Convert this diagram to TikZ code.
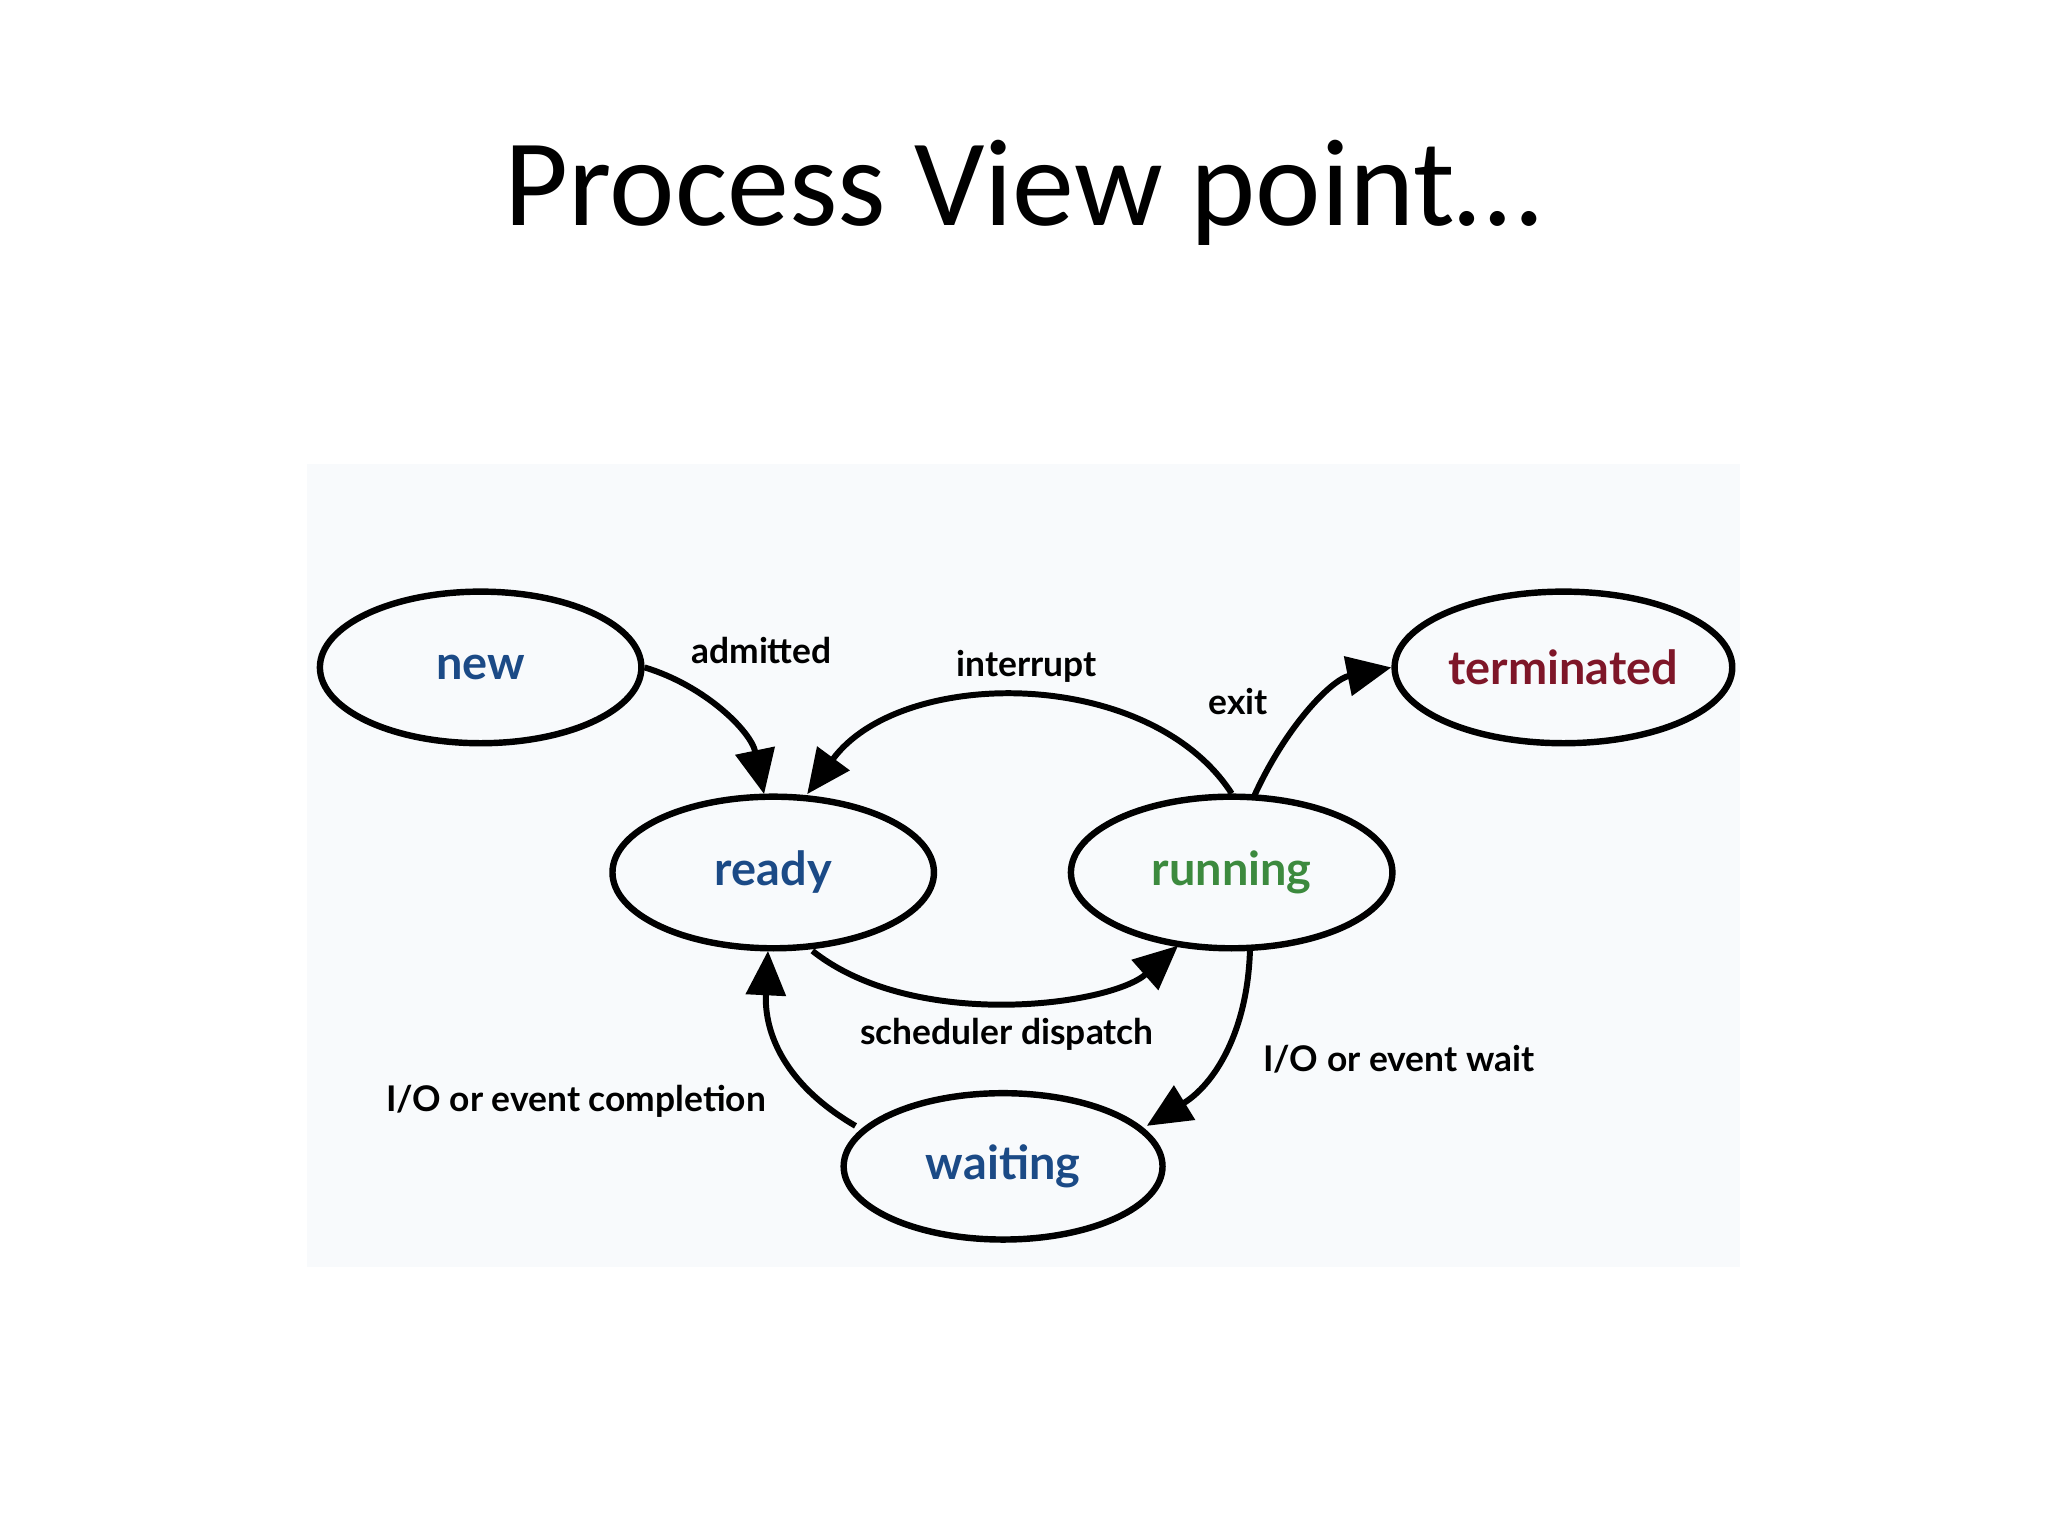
\documentclass[tikz,border=0pt]{standalone}
\usepackage{fontspec}
\setmainfont{Carlito}
\newfontfamily\lab{Lato}
\usetikzlibrary{shapes.geometric,arrows.meta}
\definecolor{bgc}{HTML}{F8FAFC}
\definecolor{cnew}{HTML}{1B4A86}
\definecolor{cgreen}{HTML}{3C8A3E}
\definecolor{cred}{HTML}{7E1628}
\begin{document}
\begin{tikzpicture}[x=0.01cm,y=-0.01cm,
  st/.style={ellipse,draw,line width=1.4pt,minimum width=2.46cm,minimum height=1.16cm,inner sep=1pt,font=\lab\bfseries\fontsize{10.2}{12}\selectfont},
  lb/.style={font=\lab\bfseries\fontsize{7.7}{9}\selectfont},
  ar/.style={line width=1.3pt,-{Triangle[length=0.34cm,width=0.3cm]}}]
\useasboundingbox (0,0) rectangle (1568,1176);
\fill[white] (0,0) rectangle (1568,1176);
\fill[bgc] (235,355) rectangle (1332,970);
\node[font=\fontsize{27}{32}\selectfont] (title) at (783,148) {Process View point…};
\node[st,text=cnew] (new) at (368,511) {new};
\node[st,text=cnew] (ready) at (592,668) {ready};
\node[st,text=cgreen] (running) at (943,668) {running};
\node[st,text=cred] (term) at (1197,511) {terminated};
\node[st,text=cnew,minimum width=2.44cm,minimum height=1.12cm] (wait) at (768,893) {waiting};
\draw[ar] (new.east) .. controls (540,525) and (575,560) .. (585,608);
\draw[ar] (running.north) .. controls (880,510) and (690,510) .. (618,608);
\draw[ar] (960,610) .. controls (985,555) and (1020,520) .. (term.west);
\draw[ar] (622,728) .. controls (700,790) and (850,770) .. (902,724);
\draw[ar] (957,728) .. controls (955,790) and (930,830) .. (878,862);
\draw[ar] (655,862) .. controls (600,830) and (585,790) .. (588,728);
\node[lb] (l1) at (583,498) {admitted};
\node[lb] (l2) at (786,510) {interrupt};
\node[lb] (l3) at (948,537) {exit};
\node[lb] (l4) at (771,792) {scheduler dispatch};
\node[lb] (l5) at (1071,811) {I/O or event wait};
\node[lb] (l6) at (441,843) {I/O or event completion};
\end{tikzpicture}
\end{document}
